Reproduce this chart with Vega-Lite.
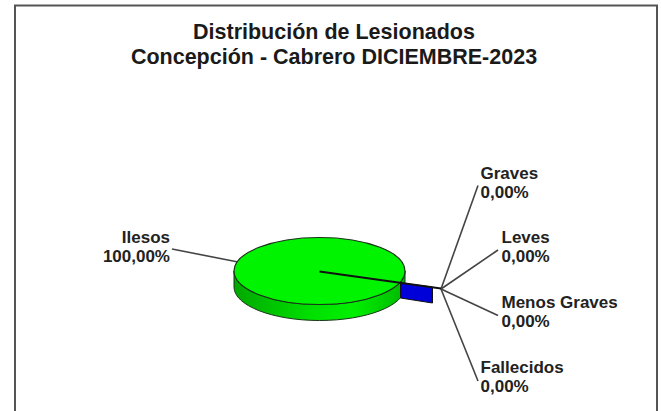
{
"$schema":"https://vega.github.io/schema/vega-lite/v6.json",
"width":661,"height":411,"padding":0,"autosize":{"type":"none"},
"background":"#ffffff",
"config":{"view":{"stroke":null},"font":"Liberation Sans"},
"title":{"text":["Distribución de Lesionados","Concepción - Cabrero DICIEMBRE-2023"],"anchor":"middle","dx":3.5,"dy":68,"fontSize":21.5,"fontWeight":"bold","font":"Liberation Sans","color":"#1a1a1a","lineHeight":25,"offset":0},
"data":{"values":[
{"categoria":"Ilesos","orden":0,"porcentaje":100,"etiqueta":"Ilesos\n100,00%"},
{"categoria":"Graves","orden":1,"porcentaje":0,"etiqueta":"Graves\n0,00%"},
{"categoria":"Leves","orden":2,"porcentaje":0,"etiqueta":"Leves\n0,00%"},
{"categoria":"Menos Graves","orden":3,"porcentaje":0,"etiqueta":"Menos Graves\n0,00%"},
{"categoria":"Fallecidos","orden":4,"porcentaje":0,"etiqueta":"Fallecidos\n0,00%"}
]},
"layer":[
{"transform":[{"filter":"datum.orden==0"}],
 "mark":{"type":"rect","fill":null,"stroke":"#555555","strokeWidth":2,"clip":true},
 "encoding":{"x":{"datum":0,"type":"quantitative","scale":{"domain":[0,1],"range":[15,657],"nice":false,"zero":false},"axis":null},
 "x2":{"datum":1},
 "y":{"datum":0,"type":"quantitative","scale":{"domain":[0,1],"range":[5.5,440],"nice":false,"zero":false},"axis":null},
 "y2":{"datum":1}}},
{"transform":[{"filter":"datum.orden>0"}],
 "mark":{"type":"rule","color":"#444444","strokeWidth":1.6},
 "encoding":{"x":{"field":"orden","type":"quantitative","scale":{"domain":[1,2,3,4,5],"range":[478,498,498,478,441],"nice":false,"zero":false},"axis":null},
 "x2":{"datum":5},
 "y":{"field":"orden","type":"quantitative","scale":{"domain":[1,2,3,4,5],"range":[185.5,250,315.5,381,289],"nice":false,"zero":false},"axis":null},
 "y2":{"datum":5}}},
{"transform":[{"filter":"datum.orden==0"}],
 "mark":{"type":"rule","color":"#444444","strokeWidth":1.6},
 "encoding":{"x":{"field":"orden","type":"quantitative","scale":{"domain":[0,1],"range":[172,238],"nice":false,"zero":false},"axis":null},
 "x2":{"datum":1},
 "y":{"field":"orden","type":"quantitative","scale":{"domain":[0,1],"range":[249,262],"nice":false,"zero":false},"axis":null},
 "y2":{"datum":1}}},
{"transform":[{"filter":"datum.orden==0"}],
 "mark":{"type":"point","filled":true,"fill":{"gradient":"linear","x1":0,"x2":1,"y1":0,"y2":0,"stops":[{"offset":0,"color":"#00a800"},{"offset":0.45,"color":"#00e000"},{"offset":0.7,"color":"#00f000"},{"offset":1,"color":"#00b800"}]},"stroke":"#1a331a","strokeWidth":1,"opacity":1,"size":4,"shape":"M-85.5,0 L-85.5,16 A85.5,33.5 0 0 0 85.5,16 L85.5,0 A85.5,33.5 0 0 1 -85.5,0 Z"},
 "encoding":{"x":{"field":"orden","type":"quantitative","scale":{"domain":[0,1],"range":[319.5,320.5],"nice":false,"zero":false},"axis":null},
 "y":{"field":"orden","type":"quantitative","scale":{"domain":[0,1],"range":[271,272],"nice":false,"zero":false},"axis":null}}},
{"transform":[{"filter":"datum.orden==0"}],
 "mark":{"type":"point","filled":true,"fill":"#00f400","stroke":"#1a331a","strokeWidth":1.2,"opacity":1,"size":4,"shape":"M-85.5,0 A85.5,33.5 0 1 1 85.5,0 A85.5,33.5 0 1 1 -85.5,0 Z"},
 "encoding":{"x":{"field":"orden","type":"quantitative","scale":{"domain":[0,1],"range":[319.5,320.5],"nice":false,"zero":false},"axis":null},
 "y":{"field":"orden","type":"quantitative","scale":{"domain":[0,1],"range":[271,272],"nice":false,"zero":false},"axis":null}}},
{"transform":[{"filter":"datum.orden==1"}],
 "mark":{"type":"point","filled":true,"fill":"#0000d8","stroke":"#111111","strokeWidth":1,"opacity":1,"size":4,"shape":"M81,12 L113,16 L113,32 L81,27 Z"},
 "encoding":{"x":{"field":"orden","type":"quantitative","scale":{"domain":[1,2],"range":[319.5,320.5],"nice":false,"zero":false},"axis":null},
 "y":{"field":"orden","type":"quantitative","scale":{"domain":[1,2],"range":[271,272],"nice":false,"zero":false},"axis":null}}},
{"transform":[{"filter":"datum.orden==0"}],
 "mark":{"type":"rule","color":"#111111","strokeWidth":1.8},
 "encoding":{"x":{"field":"orden","type":"quantitative","scale":{"domain":[0,1],"range":[319.5,441],"nice":false,"zero":false},"axis":null},
 "x2":{"datum":1},
 "y":{"field":"orden","type":"quantitative","scale":{"domain":[0,1],"range":[271.5,288.5],"nice":false,"zero":false},"axis":null},
 "y2":{"datum":1}}},
{"transform":[{"filter":"datum.orden>0"}],
 "mark":{"type":"text","align":"left","baseline":"alphabetic","font":"Liberation Sans","fontWeight":"bold","fontSize":17,"lineHeight":19.2,"color":"#222222","lineBreak":"\n"},
 "encoding":{"x":{"field":"orden","type":"quantitative","scale":{"domain":[1,2,3,4],"range":[480.5,501.5,501.5,480.5],"nice":false,"zero":false},"axis":null},
 "y":{"field":"orden","type":"quantitative","scale":{"domain":[1,2,3,4],"range":[179,243,307.5,373],"nice":false,"zero":false},"axis":null},
 "text":{"field":"etiqueta"}}},
{"transform":[{"filter":"datum.orden==0"}],
 "mark":{"type":"text","align":"right","baseline":"alphabetic","font":"Liberation Sans","fontWeight":"bold","fontSize":17,"lineHeight":19.2,"color":"#222222","lineBreak":"\n"},
 "encoding":{"x":{"field":"orden","type":"quantitative","scale":{"domain":[0,1],"range":[170,171],"nice":false,"zero":false},"axis":null},
 "y":{"field":"orden","type":"quantitative","scale":{"domain":[0,1],"range":[243,244],"nice":false,"zero":false},"axis":null},
 "text":{"field":"etiqueta"}}}
],
"resolve":{"scale":{"x":"independent","y":"independent"}}
}
